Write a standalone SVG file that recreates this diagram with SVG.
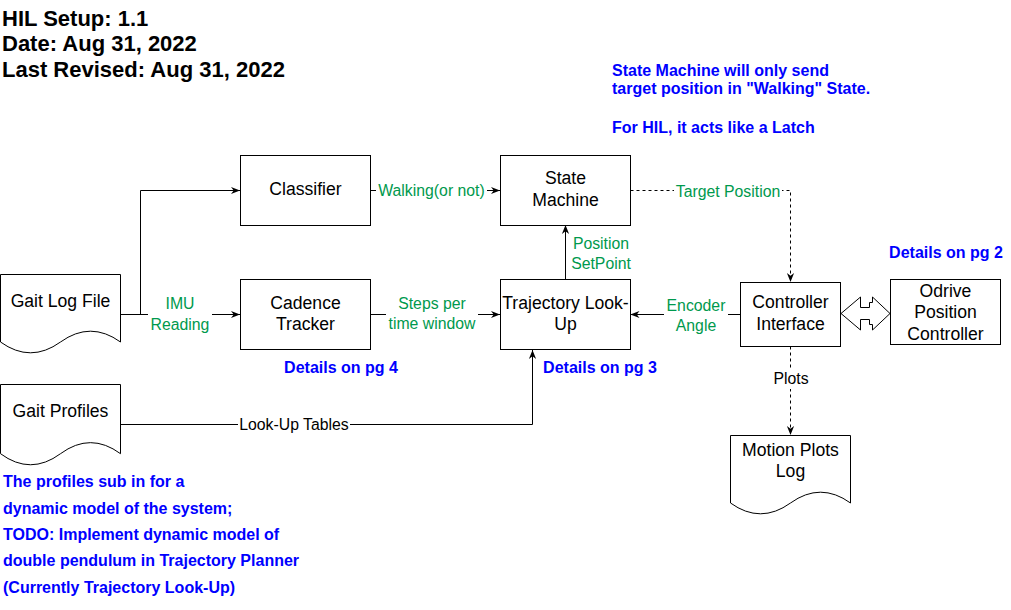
<svg xmlns="http://www.w3.org/2000/svg" width="1011" height="610" viewBox="0 0 1011 610">
<style>
.box{fill:#fff;stroke:#000;stroke-width:1}
.t{font-family:"Liberation Sans",Arial,Helvetica,sans-serif;font-size:17.6px;fill:#000;text-anchor:middle}
.lbl{font-family:"Liberation Sans",Arial,Helvetica,sans-serif;font-size:15.8px;fill:#00994D;text-anchor:middle}
.lblk{font-family:"Liberation Sans",Arial,Helvetica,sans-serif;font-size:15.8px;fill:#000;text-anchor:middle}
.note{font-family:"Liberation Sans",Arial,Helvetica,sans-serif;font-size:16px;font-weight:bold;fill:#0000FF}
.title{font-family:"Liberation Sans",Arial,Helvetica,sans-serif;font-size:22px;font-weight:bold;fill:#000}
.ln{fill:none;stroke:#000;stroke-width:1}
.dash{stroke-dasharray:3 3}
.bg{fill:#fff}
</style>
<defs>
<marker id="arr" viewBox="0 0 10 10" refX="10" refY="5" markerWidth="9" markerHeight="9" markerUnits="userSpaceOnUse" orient="auto">
<path d="M0,1 L10,5 L0,9 L3,5 z" fill="#000"/>
</marker>
</defs>
<rect width="1011" height="610" fill="#fff"/>

<g id="title">
<text class="title" x="2" y="25.5">HIL Setup: 1.1</text>
<text class="title" x="2" y="51">Date: Aug 31, 2022</text>
<text class="title" x="2" y="77">Last Revised: Aug 31, 2022</text>
</g>

<g id="note-state">
<text class="note" x="612" y="75.5">State Machine will only send</text>
<text class="note" x="612" y="93.5">target position in "Walking" State.</text>
<text class="note" x="612" y="132.5">For HIL, it acts like a Latch</text>
</g>

<g id="note-profiles">
<text class="note" x="3" y="487">The profiles sub in for a</text>
<text class="note" x="3" y="513.5">dynamic model of the system;</text>
<text class="note" x="3" y="540">TODO: Implement dynamic model of</text>
<text class="note" x="3" y="566">double pendulum in Trajectory Planner</text>
<text class="note" x="3" y="592.5">(Currently Trajectory Look-Up)</text>
</g>

<g id="details">
<text class="note" x="341" y="372.5" text-anchor="middle">Details on pg 4</text>
<text class="note" x="600" y="372.5" text-anchor="middle">Details on pg 3</text>
<text class="note" x="946" y="258" text-anchor="middle">Details on pg 2</text>
</g>

<g id="connectors">
<path class="ln" d="M140.5,314.5 V190.5 H240" marker-end="url(#arr)"/>
<path class="ln" d="M120.5,314.5 H240" marker-end="url(#arr)"/>
<path class="ln" d="M370.5,190.5 H500" marker-end="url(#arr)"/>
<path class="ln" d="M370.5,314.5 H500" marker-end="url(#arr)"/>
<path class="ln" d="M565.5,280 V225" marker-end="url(#arr)"/>
<path class="ln dash" d="M630.5,190.5 H790.5 V282" marker-end="url(#arr)"/>
<path class="ln" d="M740,314.5 H630.5" marker-end="url(#arr)"/>
<path class="ln dash" d="M790.5,346.5 V435" marker-end="url(#arr)"/>
<path class="ln" d="M120.5,424.5 H532.5 V350" marker-end="url(#arr)"/>
<polygon points="841,313.5 860.5,297 860.5,307.5 869.5,307.5 869.5,302.5 872.5,302.5 872.5,297 890,313.5 872.5,330 872.5,324.5 869.5,324.5 869.5,319.5 860.5,319.5 860.5,330" fill="#fff" stroke="#000" stroke-width="1"/>

<rect class="bg" x="148" y="293" width="64" height="41"/>
<text class="lbl" x="180" y="309">IMU</text>
<text class="lbl" x="180" y="329.5">Reading</text>

<rect class="bg" x="376" y="180" width="111" height="20"/>
<text class="lbl" x="431.5" y="195.5">Walking(or not)</text>

<rect class="bg" x="386" y="293" width="92" height="40"/>
<text class="lbl" x="432" y="308.5">Steps per</text>
<text class="lbl" x="432" y="328.5">time window</text>

<text class="lbl" x="601" y="249">Position</text>
<text class="lbl" x="601" y="269">SetPoint</text>

<rect class="bg" x="674" y="181" width="108" height="20"/>
<text class="lbl" x="728" y="197">Target Position</text>

<rect class="bg" x="664" y="295" width="64" height="40"/>
<text class="lbl" x="696" y="311">Encoder</text>
<text class="lbl" x="696" y="331">Angle</text>

<rect class="bg" x="772" y="368" width="38" height="21"/>
<text class="lblk" x="791" y="383.5">Plots</text>

<rect class="bg" x="238" y="415" width="112" height="20"/>
<text class="lblk" x="294" y="430">Look-Up Tables</text>
</g>

<g id="gait-log-file">
<path class="box" d="M0.5,274.5 H120.5 V342 Q90.5,320.4 60.5,342 Q30.5,363.6 0.5,342 Z"/>
<text class="t" x="60.5" y="307">Gait Log File</text>
</g>

<g id="gait-profiles">
<path class="box" d="M0.5,384.5 H120.5 V453.7 Q90.5,431.6 60.5,453.7 Q30.5,475.8 0.5,453.7 Z"/>
<text class="t" x="60.5" y="417">Gait Profiles</text>
</g>

<g id="classifier">
<rect class="box" x="240.5" y="155.5" width="130" height="70"/>
<text class="t" x="305.5" y="195">Classifier</text>
</g>

<g id="state-machine">
<rect class="box" x="500.5" y="155.5" width="130" height="70"/>
<text class="t" x="565.5" y="184">State</text>
<text class="t" x="565.5" y="205.5">Machine</text>
</g>

<g id="cadence-tracker">
<rect class="box" x="240.5" y="279.5" width="130" height="70"/>
<text class="t" x="305.5" y="308.5">Cadence</text>
<text class="t" x="305.5" y="330">Tracker</text>
</g>

<g id="trajectory-look-up">
<rect class="box" x="500.5" y="279.5" width="130" height="70"/>
<text class="t" x="565.5" y="308.5">Trajectory Look-</text>
<text class="t" x="565.5" y="330">Up</text>
</g>

<g id="controller-interface">
<rect class="box" x="740.5" y="282.5" width="100" height="64"/>
<text class="t" x="790.5" y="308">Controller</text>
<text class="t" x="790.5" y="329.5">Interface</text>
</g>

<g id="odrive">
<rect class="box" x="890.5" y="279.5" width="110" height="65"/>
<text class="t" x="945.5" y="296.5">Odrive</text>
<text class="t" x="945.5" y="318">Position</text>
<text class="t" x="945.5" y="339.5">Controller</text>
</g>

<g id="motion-plots-log">
<path class="box" d="M730.5,435.5 H850.5 V503 Q820.5,481.4 790.5,503 Q760.5,524.6 730.5,503 Z"/>
<text class="t" x="790.5" y="455.5">Motion Plots</text>
<text class="t" x="790.5" y="477">Log</text>
</g>
</svg>
